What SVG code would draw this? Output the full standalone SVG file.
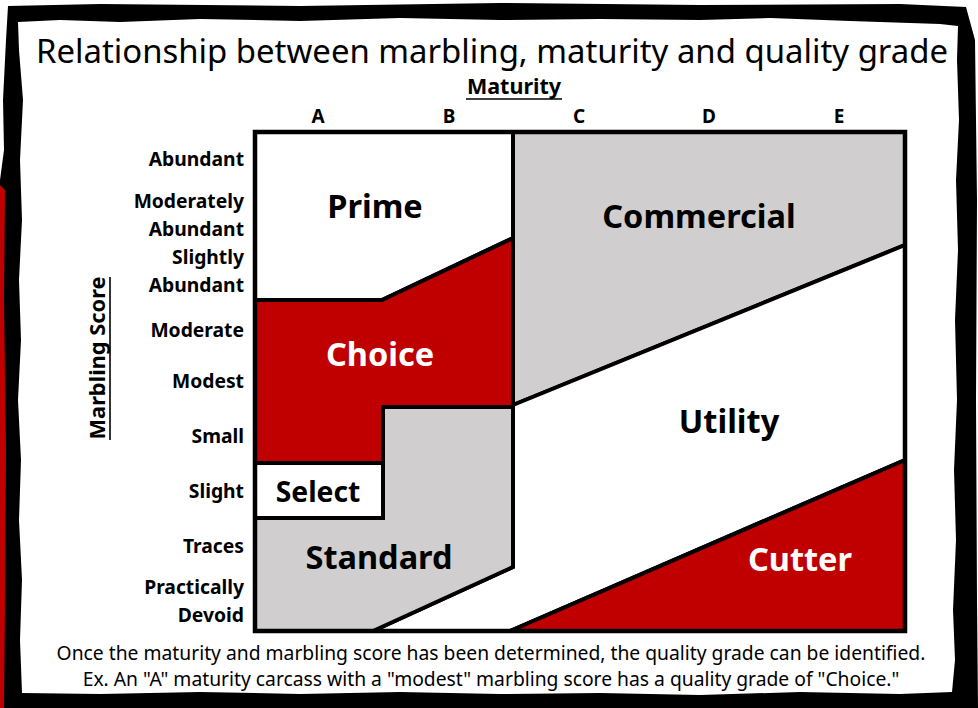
<svg xmlns="http://www.w3.org/2000/svg" width="978" height="708" viewBox="0 0 978 708">
  <style>
    .t { font-family: "Noto Sans", "Open Sans", "DejaVu Sans", sans-serif; }
    .b { font-weight: bold; }
    .row { font-size: 19.3px; text-anchor: end; }
    .col { font-size: 19px; text-anchor: middle; }
    .grade { font-size: 32.5px; text-anchor: middle; }
    .area { stroke: #000; stroke-width: 4; stroke-linejoin: miter; }
    .red { fill: #C00000; }
    .grey { fill: #D0CECE; }
    .white { fill: #FFFFFF; }
  </style>

  <!-- page background and rough frame -->
  <rect width="978" height="708" fill="#FFFFFF"/>
  <polygon fill="#000" points="8,6 100,4 300,6 500,3 700,5 900,4 966,7 975,40 977,200 976,400 977,600 978,708 0,708 0,180 4,150 3,100 6,40"/>
  <polygon fill="#C00000" points="0,185 5,190 4,300 6,450 5,600 4,708 0,708"/>
  <polygon fill="#FFFFFF" points="18,22 60,20 120,22 200,19 300,21 400,18 500,20 600,19 700,20 770,18 850,21 940,24 958,26 957,60 959,120 956,180 958,250 955,320 957,400 954,470 956,540 953,610 955,660 952,692 900,694 800,692 700,695 600,693 500,694 400,692 300,694 200,692 100,694 22,693 20,640 22,580 19,520 21,460 18,400 21,340 19,280 22,220 20,160 23,100 19,50"/>

  <!-- title -->
  <text class="t" x="492" y="63" font-size="32.9" text-anchor="middle" fill="#000">Relationship between marbling, maturity and quality grade</text>

  <!-- maturity axis -->
  <g id="axis-maturity">
    <text class="t b" x="514" y="94" font-size="21.5" text-anchor="middle">Maturity</text>
    <line x1="466" y1="99" x2="562" y2="99" stroke="#000" stroke-width="1.6"/>
    <text class="t b col" x="318" y="123">A</text>
    <text class="t b col" x="449" y="123">B</text>
    <text class="t b col" x="579" y="123">C</text>
    <text class="t b col" x="709" y="123">D</text>
    <text class="t b col" x="839" y="123">E</text>
  </g>

  <!-- marbling axis -->
  <g id="axis-marbling">
    <text class="t b" x="0" y="0" font-size="21.8" text-anchor="middle" transform="translate(105,358) rotate(-90)">Marbling Score</text>
    <line x1="110" y1="277" x2="110" y2="440" stroke="#000" stroke-width="1.6"/>
    <text class="t b row" x="244" y="166">Abundant</text>
    <text class="t b row" x="244" y="208">Moderately</text>
    <text class="t b row" x="244" y="236">Abundant</text>
    <text class="t b row" x="244" y="264">Slightly</text>
    <text class="t b row" x="244" y="292">Abundant</text>
    <text class="t b row" x="244" y="337">Moderate</text>
    <text class="t b row" x="244" y="388">Modest</text>
    <text class="t b row" x="244" y="443">Small</text>
    <text class="t b row" x="244" y="498">Slight</text>
    <text class="t b row" x="244" y="553">Traces</text>
    <text class="t b row" x="244" y="594">Practically</text>
    <text class="t b row" x="244" y="622">Devoid</text>
  </g>

  <!-- grade regions -->
  <g id="commercial">
    <polygon class="area grey" points="513,132 905,132 905,245 513,405"/>
    <text class="t b grade" x="699" y="228">Commercial</text>
  </g>
  <g id="utility">
    <polygon class="area white" points="513,405 905,245 905,460 510,631 373,631 513,567"/>
    <text class="t b grade" x="729" y="433">Utility</text>
  </g>
  <g id="cutter">
    <polygon class="area red" points="510,631 905,460 905,631"/>
    <text class="t b grade" x="800" y="571" fill="#FFFFFF">Cutter</text>
  </g>
  <g id="prime">
    <polygon class="area white" points="255,132 513,132 513,238 382,300 255,300"/>
    <text class="t b grade" x="375" y="218">Prime</text>
  </g>
  <g id="choice">
    <polygon class="area red" points="255,300 382,300 513,238 513,407 383,407 383,463 255,463"/>
    <text class="t b grade" x="380" y="366" fill="#FFFFFF">Choice</text>
  </g>
  <g id="standard">
    <polygon class="area grey" points="255,518 383,518 383,407 513,407 513,567 373,631 255,631"/>
    <text class="t b grade" x="379" y="569">Standard</text>
  </g>
  <g id="select">
    <polygon class="area white" points="255,463 383,463 383,518 255,518"/>
    <text class="t b" x="318" y="502" font-size="28.3" text-anchor="middle">Select</text>
  </g>

  <!-- chart outline -->
  <rect x="255" y="132" width="650" height="499" fill="none" stroke="#000" stroke-width="4.5"/>

  <!-- caption -->
  <text class="t" x="491" y="660" font-size="19.3" text-anchor="middle">Once the maturity and marbling score has been determined, the quality grade can be identified.</text>
  <text class="t" x="491" y="686" font-size="19.3" text-anchor="middle">Ex. An "A" maturity carcass with a "modest" marbling score has a quality grade of "Choice."</text>
</svg>
